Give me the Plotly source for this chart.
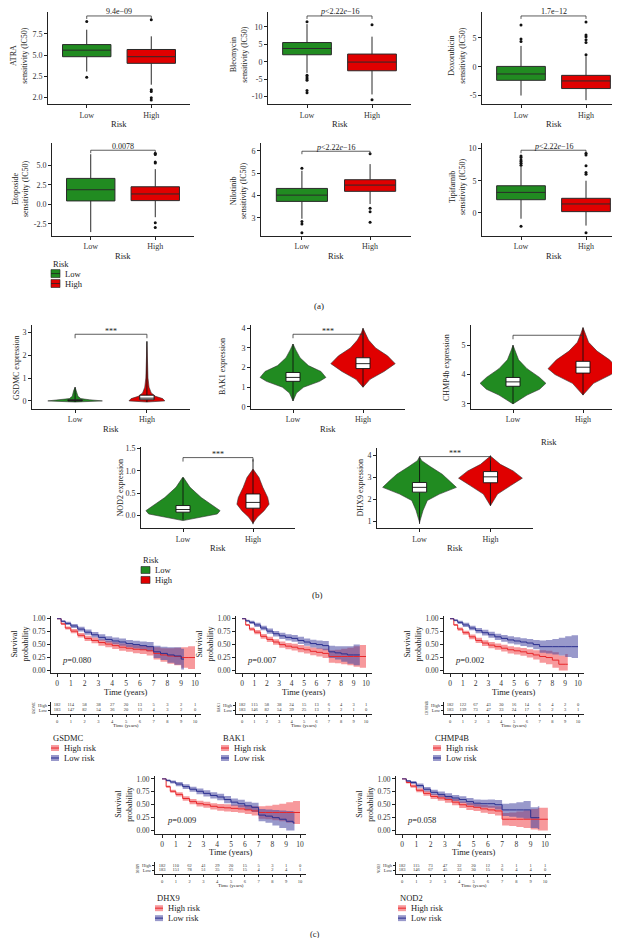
import plotly.graph_objects as go

W, H = 620, 938
FONT = "Liberation Serif"
GREEN = "#218B21"
RED = "#E00000"
KM_RED = "#E8282B"
KM_BLUE = "#2B2F8F"
KM_RED_FILL = "rgba(240,70,75,0.55)"
KM_BLUE_FILL = "rgba(70,70,160,0.55)"

# ---------------- data: panel (a) boxplots ----------------
drugs = ["ATRA", "Bleomycin", "Doxorubicin", "Etoposide", "Nilotinib", "Tipifarnib"]
sig_labels = ["9.4e\u221209", "<i>p</i><2.22<i>e</i>\u221216", "1.7e\u221212", "0.0078",
              "<i>p</i><2.22<i>e</i>\u221216", "<i>p</i><2.22<i>e</i>\u221216"]
low_fence_low = [3.06, -3.2, -5.0, -3.55, 2.96, -0.9]
q1_low = [4.81, 2.0, -2.36, 0.43, 3.74, 2.05]
median_low = [5.58, 3.8, -1.26, 1.86, 4.02, 3.19]
q3_low = [6.24, 5.51, 0.05, 3.31, 4.32, 4.22]
up_fence_low = [7.99, 10.8, 3.6, 6.4, 5.11, 7.2]
low_fence_high = [1.51, -9.4, -5.8, -1.65, 3.62, -1.97]
q1_high = [4.03, -2.6, -3.79, 0.47, 4.19, 0.2]
median_high = [4.81, -0.1, -2.47, 1.32, 4.47, 1.39]
q3_high = [5.66, 2.2, -1.5, 2.24, 4.71, 2.27]
up_fence_high = [7.21, 7.2, 1.8, 4.49, 5.41, 5.0]
outliers_low = [[8.95, 2.4], [11.5, -3.9, -4.4, -4.9, -5.3, -8.3, -8.9], [4.36, 4.78, 7.24],
                [], [5.23, 2.84, 2.73, 2.33], [7.42, 7.73, 7.98, 8.24, 8.6, 8.86, -2.06]]
outliers_high = [[9.15, 0.93, 0.7, -0.04, -0.3], [10.6, -10.9], [2.07, 4.2, 4.66, 5.2, 5.5, 7.76],
                 [5.27, 5.42, 6.35, 6.52, -2.37, -2.96], [5.88, 3.43, 3.28, 2.8],
                 [6.0, 6.29, 7.32, 9.0, 9.27, -3.1]]
ytick_vals_a = [[0, 2.5, 5.0, 7.5], [-10, -5, 0, 5, 10], [-5, 0, 5], [-2.5, 0.0, 2.5, 5.0], [3, 4, 5, 6], [0, 5, 10]]
ytick_text_a = [["2.0", "2.5", "5.0", "7.5"], ["-10", "-5", "0", "5", "10"], ["-5", "0", "5"],
                ["-2.5", "0.0", "2.5", "5.0"], ["3", "4", "5", "6"], ["0", "5", "10"]]

# ---------------- data: panel (b) violins ----------------
genes_b = ["GSDMC", "BAK1", "CHMP4b", "NOD2", "DHX9"]
vio_low_y = [
    [-0.05, 0.0, 0.05, 0.1, 0.2, 0.3, 0.45, 0.6],
    [0.3, 0.7, 1.0, 1.3, 1.5, 1.8, 2.1, 2.5, 2.9, 3.2],
    [3.0, 3.3, 3.5, 3.7, 3.9, 4.2, 4.5, 4.8, 5.0],
    [-0.12, -0.045, 0.03, 0.105, 0.25, 0.40, 0.63, 0.85],
    [0.95, 1.5, 1.95, 2.24, 2.55, 2.86, 3.15, 3.5, 3.77, 3.95],
]
vio_low_w = [
    [0.0, 0.38, 0.2, 0.08, 0.04, 0.03, 0.02, 0.0],
    [0.0, 0.05, 0.15, 0.38, 0.47, 0.4, 0.22, 0.1, 0.04, 0.0],
    [0.0, 0.2, 0.38, 0.47, 0.38, 0.2, 0.08, 0.03, 0.0],
    [0.0, 0.26, 0.49, 0.53, 0.4, 0.26, 0.1, 0.007],
    [0.0, 0.05, 0.11, 0.28, 0.52, 0.42, 0.32, 0.15, 0.03, 0.0],
]
vio_high_y = [
    [-0.05, 0.0, 0.1, 0.2, 0.35, 0.6, 1.0, 1.5, 2.0, 2.6],
    [1.0, 1.4, 1.8, 2.2, 2.6, 3.0, 3.4, 3.8, 4.0],
    [3.3, 3.7, 4.0, 4.2, 4.5, 4.8, 5.1, 5.4, 5.6],
    [-0.18, -0.045, 0.105, 0.25, 0.40, 0.63, 0.85, 1.04],
    [1.71, 2.24, 2.62, 2.97, 3.3, 3.6, 3.98],
]
vio_high_w = [
    [0.0, 0.25, 0.22, 0.12, 0.06, 0.03, 0.015, 0.01, 0.005, 0.0],
    [0.0, 0.1, 0.3, 0.46, 0.35, 0.18, 0.08, 0.02, 0.0],
    [0.0, 0.15, 0.4, 0.5, 0.38, 0.2, 0.08, 0.03, 0.0],
    [0.0, 0.06, 0.16, 0.23, 0.21, 0.14, 0.086, 0.0],
    [0.0, 0.1, 0.28, 0.45, 0.32, 0.14, 0.0],
]
vbox_low = [  # lower whisker, q1, median, q3, upper whisker
    [-0.05, 0.0, 0.02, 0.05, 0.6],
    [0.3, 1.3, 1.5, 1.75, 3.2],
    [3.0, 3.6, 3.75, 3.9, 5.0],
    [-0.1, 0.07, 0.13, 0.22, 0.85],
    [0.88, 2.33, 2.55, 2.77, 3.92],
]
vbox_high = [
    [-0.05, 0.05, 0.12, 0.25, 2.6],
    [1.0, 1.95, 2.2, 2.5, 4.0],
    [3.3, 4.05, 4.25, 4.45, 5.6],
    [-0.2, 0.16, 0.29, 0.48, 1.26],
    [1.71, 2.76, 3.03, 3.27, 4.0],
]
ytick_vals_b = [[0, 1, 2, 3], [0, 1, 2, 3, 4], [3, 4, 5], [0.0, 0.5, 1.0, 1.5], [1, 2, 3, 4]]
ytick_text_b = [["0", "1", "2", "3"], ["0", "1", "2", "3", "4"], ["3", "4", "5"],
                ["0.0", "0.5", "1.0", "1.5"], ["1", "2", "3", "4"]]
sig_b = ["***", "***", "", "***", "***"]

# ---------------- data: panel (c) Kaplan-Meier ----------------
genes_c = ["GSDMC", "BAK1", "CHMP4B", "DHX9", "NOD2"]
pvals_c = ["0.080", "0.007", "0.002", "0.009", "0.058"]
km_t = [0, 0.3, 0.6, 1, 1.5, 2, 2.5, 3, 3.5, 4, 4.5, 5, 5.5, 6, 6.5, 7, 7.5, 8, 8.5, 9, 9.5]
km_high_s = [
    [1, 0.9, 0.82, 0.76, 0.68, 0.62, 0.58, 0.54, 0.51, 0.48, 0.45, 0.43, 0.41, 0.4, 0.38, 0.33, 0.3, 0.28, 0.27, 0.25, 0.25],
    [1, 0.88, 0.8, 0.74, 0.66, 0.6, 0.55, 0.5, 0.47, 0.45, 0.42, 0.4, 0.37, 0.35, 0.33, 0.27, 0.27, 0.27, 0.27, 0.27, 0.27],
    [1, 0.88, 0.8, 0.73, 0.65, 0.58, 0.53, 0.49, 0.46, 0.43, 0.4, 0.38, 0.36, 0.33, 0.3, 0.27, 0.25, 0.2, 0.12, 0.12, 0.12],
    [1, 0.85, 0.76, 0.7, 0.62, 0.56, 0.52, 0.5, 0.47, 0.45, 0.44, 0.43, 0.42, 0.4, 0.38, 0.35, 0.35, 0.35, 0.35, 0.35, 0.35],
    [1, 0.93, 0.86, 0.78, 0.72, 0.66, 0.63, 0.6, 0.55, 0.5, 0.47, 0.45, 0.42, 0.4, 0.38, 0.22, 0.22, 0.22, 0.22, 0.22, 0.22],
]
km_low_s = [
    [1, 0.95, 0.91, 0.86, 0.8, 0.74, 0.69, 0.64, 0.6, 0.57, 0.55, 0.52, 0.5, 0.48, 0.46, 0.36, 0.33, 0.3, 0.28, 0.22, 0.22],
    [1, 0.96, 0.93, 0.88, 0.82, 0.76, 0.71, 0.67, 0.64, 0.62, 0.58, 0.55, 0.52, 0.5, 0.48, 0.36, 0.34, 0.32, 0.3, 0.3, 0.3],
    [1, 0.97, 0.93, 0.88, 0.82, 0.77, 0.73, 0.69, 0.65, 0.62, 0.59, 0.57, 0.55, 0.53, 0.5, 0.46, 0.46, 0.46, 0.46, 0.46, 0.46],
    [1, 0.97, 0.94, 0.9, 0.85, 0.8, 0.76, 0.72, 0.68, 0.65, 0.6, 0.55, 0.52, 0.48, 0.45, 0.3, 0.28, 0.25, 0.22, 0.18, 0.15],
    [1, 0.96, 0.93, 0.87, 0.8, 0.74, 0.7, 0.66, 0.63, 0.6, 0.56, 0.53, 0.52, 0.52, 0.5, 0.4, 0.4, 0.4, 0.4, 0.25, 0.25],
]
km_high_end = [10.0, 10.0, 9.2, 10.0, 10.2]   # last follow-up time, high-risk curve
km_low_end = [9.2, 9.5, 10.0, 9.6, 9.6]       # last follow-up time, low-risk curve
km_ci_half = [0, 0.02, 0.03, 0.04, 0.045, 0.05, 0.055, 0.06, 0.06, 0.065, 0.07, 0.07, 0.075, 0.08, 0.09, 0.12, 0.13, 0.15, 0.17, 0.2, 0.22]
risk_times = list(range(11))
risk_high = [
    [182, 114, 58, 38, 27, 20, 13, 5, 3, 2, 1],
    [182, 115, 58, 38, 24, 15, 13, 6, 4, 3, 1],
    [182, 122, 67, 43, 30, 16, 14, 6, 4, 2, 0],
    [182, 110, 62, 41, 29, 20, 15, 5, 3, 1, 0],
    [182, 115, 73, 47, 32, 20, 12, 3, 1, 1, 1],
]
risk_low = [
    [183, 147, 82, 54, 36, 20, 13, 4, 3, 2, 0],
    [183, 146, 82, 54, 39, 25, 13, 3, 2, 1, 0],
    [183, 139, 73, 47, 33, 24, 17, 5, 2, 3, 1],
    [183, 151, 78, 51, 35, 25, 15, 4, 2, 4, 1],
    [183, 146, 67, 45, 33, 30, 15, 6, 4, 4, 0],
]

# ---------------- helpers ----------------
fig = go.Figure()
axes = []
annotations = []
shapes = []


def yrange_from(va, pa, vb, pb, ytop, ybot):
    s = (pa - pb) / (vb - va)
    return [va - (ybot - pa) / s, va + (pa - ytop) / s]


def new_axes(x0, x1, y0, y1, xrange, yrange, xtv=None, xtt=None, ytv=None, ytt=None,
             fsize=8, ticklen=3):
    n = len(axes) + 1
    sfx = "" if n == 1 else str(n)
    common = dict(showline=True, linecolor="#222", linewidth=1, ticks="outside", ticklen=ticklen,
                  tickcolor="#222", tickwidth=1, showgrid=False, zeroline=False,
                  tickfont=dict(size=fsize, color="#333", family=FONT), fixedrange=True)
    fig.layout["xaxis" + sfx] = dict(domain=[x0 / W, x1 / W], range=xrange, anchor="y" + sfx,
                                     tickmode="array" if xtv is not None else "auto",
                                     tickvals=xtv, ticktext=xtt, **common)
    fig.layout["yaxis" + sfx] = dict(domain=[1 - y1 / H, 1 - y0 / H], range=yrange, anchor="x" + sfx,
                                     tickmode="array" if ytv is not None else "auto",
                                     tickvals=ytv, ticktext=ytt, **common)
    ax = dict(x="x" + sfx, y="y" + sfx, x0=x0, x1=x1, y0=y0, y1=y1, xr=xrange, yr=yrange)
    axes.append(ax)
    return ax


def px(ax, xv):
    return ax["x0"] + (xv - ax["xr"][0]) / (ax["xr"][1] - ax["xr"][0]) * (ax["x1"] - ax["x0"])


def ann(text, x, y, size=8, angle=0, xanchor="center", color="#222", yanchor="middle"):
    annotations.append(dict(text=text, x=x / W, y=1 - y / H, xref="paper", yref="paper",
                            showarrow=False, textangle=angle, xanchor=xanchor, yanchor=yanchor,
                            font=dict(size=size, color=color, family=FONT)))


def line(x0, y0, x1, y1, color="#222", width=1):
    shapes.append(dict(type="line", xref="paper", yref="paper", x0=x0 / W, x1=x1 / W,
                       y0=1 - y0 / H, y1=1 - y1 / H, line=dict(color=color, width=width)))


def rect(x0, y0, x1, y1, fill, color="#222", width=0.6):
    shapes.append(dict(type="rect", xref="paper", yref="paper", x0=x0 / W, x1=x1 / W,
                       y0=1 - y1 / H, y1=1 - y0 / H, fillcolor=fill, line=dict(color=color, width=width)))


def bracket(ax, ypx, leg=3, label="", lsize=8, ly=None):
    xa, xb = px(ax, 0), px(ax, 1)
    line(xa, ypx, xb, ypx, color="#333", width=0.8)
    line(xa, ypx, xa, ypx + leg, color="#333", width=0.8)
    line(xb, ypx, xb, ypx + leg, color="#333", width=0.8)
    if label:
        ann(label, (xa + xb) / 2, ly if ly is not None else ypx - 4, size=lsize)


def sc(ax, x, y, **kw):
    fig.add_trace(go.Scatter(x=x, y=y, xaxis=ax["x"], yaxis=ax["y"], showlegend=False,
                             hoverinfo="skip", **kw))


def truncate(ts, vals, end):
    tt = [t for t in ts if t < end]
    vv = list(vals[:len(tt)])
    return tt + [end], vv + [vv[-1]]


# ---------------- panel (a) ----------------
rects_a = [(40, 182, 2, 95), (260, 403, 2, 95), (474, 617, 2, 95),
           (44, 186, 134, 227), (253, 403, 134, 227), (474, 617, 134, 227)]
tickref_a = [(0, 88, 7.5, 24), (-10, 87, 10, 17), (-5, 86, 5, 28),
             (-2.5, 215, 5.0, 156), (3, 209, 6, 141.7), (0, 204, 10, 139.3)]
bracket_y_a = [6, 6, 6, 141, 142, 141]
ylab_pos_a = [(11, 46), (231, 45), (449, 46), (12, 180), (230, 182), (449, 178)]
for i, d in enumerate(drugs):
    x0, x1, yt, yb = rects_a[i]
    va, pa, vb, pb = tickref_a[i]
    ax = new_axes(x0, x1, yt, yb, [-0.6, 1.6], yrange_from(va, pa, vb, pb, yt, yb),
                  xtv=[0, 1], xtt=["Low", "High"], ytv=ytick_vals_a[i], ytt=ytick_text_a[i], fsize=8)
    for g, (lf, q1, md, q3, uf, col) in enumerate([
            (low_fence_low[i], q1_low[i], median_low[i], q3_low[i], up_fence_low[i], GREEN),
            (low_fence_high[i], q1_high[i], median_high[i], q3_high[i], up_fence_high[i], RED)]):
        fig.add_trace(go.Box(x=[g], q1=[q1], median=[md], q3=[q3], lowerfence=[lf], upperfence=[uf],
                             width=0.75, whiskerwidth=0, fillcolor=col, boxpoints=False,
                             line=dict(color="#2a2a2a", width=1), xaxis=ax["x"], yaxis=ax["y"],
                             showlegend=False, hoverinfo="skip"))
        outs = outliers_low[i] if g == 0 else outliers_high[i]
        if outs:
            sc(ax, [g] * len(outs), outs, mode="markers", marker=dict(color="#111", size=3))
    bracket(ax, bracket_y_a[i], leg=3, label=sig_labels[i], lsize=8, ly=bracket_y_a[i] - 4)
    lx, ly = ylab_pos_a[i]
    ann(d + "<br>sensitivity (IC50)", lx, ly, size=8, angle=-90)
    ann("Risk", (x0 + x1) / 2, yb + 20, size=8.5)

ann("Risk", 43, 255, size=8.5, xanchor="left")
for k, (lab, col) in enumerate([("Low", GREEN), ("High", RED)]):
    yy = 265 + 10 * k
    rect(43, yy - 4, 52, yy + 4, col, width=0.6)
    line(43, yy, 52, yy, color="#222", width=0.8)
    ann(lab, 55, yy, size=8.5, xanchor="left")
ann("(a)", 311, 298, size=9)

# ---------------- panel (b) ----------------
rects_b = [(24, 182, 317, 401), (243, 397, 317, 401), (463, 617, 317, 401),
           (133, 287, 439, 521), (369, 525, 440, 521)]
tickref_b = [(0, 393, 3, 324), (0, 399, 4, 320), (3, 396, 5, 337), (0, 508, 1.5, 441), (1, 514, 4, 448)]
bracket_y_b = [326, 326, 327, 450, 449]
ylab_pos_b = [(8, 360), (214, 359), (438, 360), (112, 480), (352, 480)]
risk_y_b = [421, 421, 434, 541, 541]
BW = 0.1  # half width of inner box
for i, gname in enumerate(genes_b):
    x0, x1, yt, yb = rects_b[i]
    va, pa, vb, pb = tickref_b[i]
    ax = new_axes(x0, x1, yt, yb, [-0.6, 1.6], yrange_from(va, pa, vb, pb, yt, yb),
                  xtv=[0, 1], xtt=["Low", "High"], ytv=ytick_vals_b[i], ytt=ytick_text_b[i], fsize=8)
    for g, (vy, vw, col, bx) in enumerate([(vio_low_y[i], vio_low_w[i], GREEN, vbox_low[i]),
                                           (vio_high_y[i], vio_high_w[i], RED, vbox_high[i])]):
        xs = [g + w for w in vw] + [g - w for w in vw[::-1]]
        ys = list(vy) + list(vy[::-1])
        sc(ax, xs, ys, mode="lines", fill="toself", fillcolor=col, line=dict(color="#333", width=0.6))
        sc(ax, [g, g], [bx[0], bx[4]], mode="lines", line=dict(color="#111", width=0.9))
        sc(ax, [g - BW, g + BW, g + BW, g - BW, g - BW], [bx[1], bx[1], bx[3], bx[3], bx[1]],
           mode="lines", fill="toself", fillcolor="white", line=dict(color="#111", width=0.9))
        sc(ax, [g - BW, g + BW], [bx[2], bx[2]], mode="lines", line=dict(color="#111", width=0.9))
    bracket(ax, bracket_y_b[i], leg=4, label=sig_b[i], lsize=8, ly=bracket_y_b[i] - 3)
    lx, ly = ylab_pos_b[i]
    ann(gname + " expression", lx, ly, size=8, angle=-90)
    ann("Risk", (x0 + x1) / 2 if i != 2 else 541, risk_y_b[i], size=8.5)

ann("Risk", 133, 553, size=8.5, xanchor="left")
for k, (lab, col) in enumerate([("Low", GREEN), ("High", RED)]):
    yy = 563 + 10 * k
    rect(133, yy - 3.5, 142, yy + 3.5, col, width=0.6)
    ann(lab, 145, yy, size=8.5, xanchor="left")
ann("(b)", 309, 588, size=9)

# ---------------- panel (c) ----------------
# (axis left, x at t=0, x at t=10, y at S=1, legend x)
km_geom = [(43, 49, 187, 612, 43), (228, 234, 358, 612, 213), (436, 442, 570, 612, 425),
           (147, 154, 292, 773, 147), (388, 394, 537, 773, 390)]
for i, gname in enumerate(genes_c):
    xl, p0, p10, ytop1, lgx = km_geom[i]
    scl = (p10 - p0) / 10.0
    xright = p10 + 6
    xr = [(xl - p0) / scl, (xright - p0) / scl]
    y0, y1 = ytop1 - 3, ytop1 + 55
    yr = yrange_from(1.0, ytop1, 0.0, ytop1 + 52, y0, y1)
    ax = new_axes(xl, xright, y0, y1, xr, yr, xtv=list(range(11)), xtt=[str(v) for v in range(11)],
                  ytv=[0, 0.25, 0.5, 0.75, 1.0], ytt=["0.00", "0.25", "0.50", "0.75", "1.00"], fsize=7.5)
    series = [(km_high_s[i], km_high_end[i], KM_RED, KM_RED_FILL),
              (km_low_s[i], km_low_end[i], KM_BLUE, KM_BLUE_FILL)]
    for s_arr, end, col, fillc in series:
        up = [min(1.0, s + h) for s, h in zip(s_arr, km_ci_half)]
        lo = [max(0.0, s - h) for s, h in zip(s_arr, km_ci_half)]
        tu, up2 = truncate(km_t, up, end)
        tl, lo2 = truncate(km_t, lo, end)
        sc(ax, tu, up2, mode="lines", line=dict(width=0, shape="hv"))
        sc(ax, tl, lo2, mode="lines", line=dict(width=0, shape="hv"), fill="tonexty", fillcolor=fillc)
    for s_arr, end, col, fillc in series:
        ts, ss = truncate(km_t, s_arr, end)
        sc(ax, ts, ss, mode="lines", line=dict(color=col, width=1, shape="hv"))
    ann("<i>p</i>=" + pvals_c[i], p0 + 3, ytop1 + 41, size=8.5, xanchor="left")
    ann("Survival<br>probability", xl - 31, ytop1 + 26, size=8, angle=-90)
    ann("Time (years)", (p0 + p10) / 2, ytop1 + 74, size=8.5)

    ty = ytop1 + 87
    tax = new_axes(xl, xright, ty - 3, ty + 9, xr, [-0.5, 1.5], xtv=list(range(11)),
                   xtt=[str(v) for v in range(11)], ytv=[0.2, 1.0], ytt=["Low", "High"], fsize=4.5, ticklen=2)
    sc(tax, risk_times, [1.0] * 11, mode="text", text=[str(v) for v in risk_high[i]],
       textfont=dict(size=4.5, color="#333", family=FONT))
    sc(tax, risk_times, [0.2] * 11, mode="text", text=[str(v) for v in risk_low[i]],
       textfont=dict(size=4.5, color="#333", family=FONT))
    ann("Time (years)", (p0 + p10) / 2, ty + 20, size=5)
    ann(gname, xl - 17, ty + 3, size=3.5, angle=-90)

    ly = ty + 33
    ann(gname, lgx, ly, size=8.5, xanchor="left")
    for k, (lab, col, fillc) in enumerate([("High risk", KM_RED, KM_RED_FILL), ("Low risk", KM_BLUE, KM_BLUE_FILL)]):
        yy = ly + 10 + 10 * k
        rect(lgx, yy - 3, lgx + 8, yy + 3, fillc, color=fillc, width=0)
        line(lgx, yy, lgx + 8, yy, color=col, width=1)
        ann(lab, lgx + 11, yy, size=8.5, xanchor="left")
ann("(c)", 307, 929, size=8.5)

fig.update_layout(width=W, height=H, margin=dict(l=0, r=0, t=0, b=0), paper_bgcolor="white",
                  plot_bgcolor="rgba(0,0,0,0)", showlegend=False, annotations=annotations, shapes=shapes,
                  font=dict(family=FONT, color="#222"))
fig.write_html("out.html")
